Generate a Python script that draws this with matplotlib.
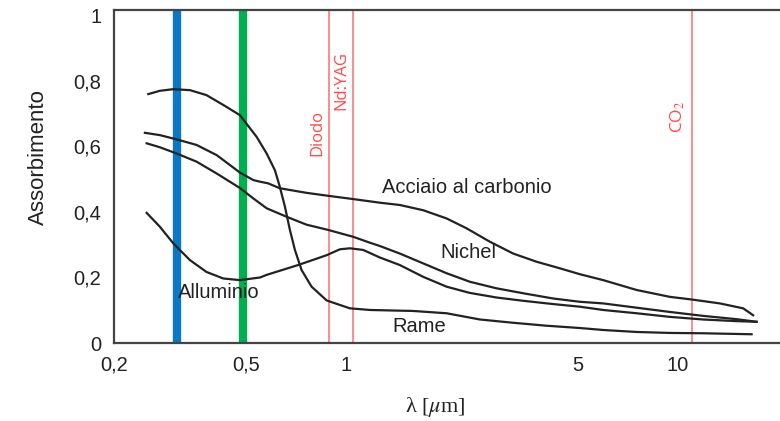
import matplotlib
matplotlib.use("Agg")
import matplotlib.pyplot as plt
from matplotlib.ticker import FixedLocator, FixedFormatter, NullLocator

plt.rcParams['font.family'] = ['Liberation Sans', 'DejaVu Sans']
plt.rcParams['mathtext.fontset'] = 'stix'

# --- dati (lambda in um, assorbimento) ---
rame_x = [0.254, 0.275, 0.302, 0.339, 0.380, 0.427, 0.479, 0.538, 0.577, 0.611,
          0.632, 0.655, 0.678, 0.702, 0.735, 0.788, 0.875, 1.028, 1.181, 1.594,
          2.010, 2.532, 3.190, 4.022, 5.066, 5.956, 7.506, 9.456, 11.91, 16.67]
rame_y = [0.759, 0.769, 0.774, 0.771, 0.756, 0.726, 0.695, 0.629, 0.578, 0.527,
          0.477, 0.416, 0.345, 0.284, 0.223, 0.172, 0.130, 0.106, 0.101, 0.098,
          0.091, 0.072, 0.062, 0.053, 0.046, 0.040, 0.034, 0.031, 0.030, 0.027]

acciaio_x = [0.248, 0.275, 0.309, 0.355, 0.408, 0.447, 0.479, 0.526, 0.551, 0.583,
             0.632, 0.761, 0.884, 1.052, 1.265, 1.453, 1.709, 2.010, 2.308, 2.714,
             3.190, 3.752, 4.410, 5.066, 5.956, 7.506, 9.456, 10.99, 13.38, 15.72,
             16.85]
acciaio_y = [0.641, 0.634, 0.621, 0.604, 0.573, 0.543, 0.520, 0.497, 0.492, 0.487,
             0.472, 0.458, 0.449, 0.439, 0.428, 0.421, 0.405, 0.380, 0.350, 0.309,
             0.273, 0.248, 0.228, 0.210, 0.192, 0.162, 0.141, 0.133, 0.121, 0.106,
             0.085]

nichel_x = [0.251, 0.275, 0.309, 0.355, 0.408, 0.447, 0.479, 0.526, 0.577, 0.663,
            0.761, 0.884, 1.052, 1.181, 1.265, 1.453, 1.709, 2.010, 2.362,
            2.842, 3.418, 4.210, 5.066, 5.956, 7.506, 9.456, 11.91, 15.02, 17.25]
nichel_y = [0.609, 0.597, 0.578, 0.553, 0.517, 0.492, 0.473, 0.441, 0.411, 0.385,
            0.361, 0.345, 0.324, 0.306, 0.296, 0.273, 0.243, 0.213, 0.187,
            0.167, 0.152, 0.136, 0.126, 0.121, 0.108, 0.095, 0.083, 0.073, 0.065]

allum_x = [0.251, 0.275, 0.302, 0.339, 0.380, 0.427, 0.479, 0.551, 0.577, 0.718,
           0.875, 0.959, 1.028, 1.127, 1.265, 1.453, 1.709, 2.010, 2.362, 2.842,
           3.418, 4.210, 5.066, 5.956, 7.506, 9.456, 11.91, 15.02, 17.25]
allum_y = [0.397, 0.355, 0.304, 0.253, 0.217, 0.197, 0.192, 0.200, 0.208, 0.238,
           0.268, 0.286, 0.289, 0.284, 0.261, 0.238, 0.202, 0.172, 0.153, 0.139,
           0.129, 0.119, 0.111, 0.101, 0.091, 0.080, 0.072, 0.067, 0.065]

# lunghezze d'onda delle barre e dei laser
blu = 0.31
verde = 0.49
laser_nomi = ['Diodo', 'Nd:YAG', 'CO$_2$']
laser_x = [0.89, 1.05, 11.0]

xticks = [0.2, 0.5, 1, 5, 10]
xticklabels = ['0,2', '0,5', '1', '5', '10']
yticks = [0, 0.2, 0.4, 0.6, 0.8, 1]
yticklabels = ['0', '0,2', '0,4', '0,6', '0,8', '1']

fig = plt.figure(figsize=(7.8, 4.21), dpi=100)
ax = fig.add_axes([0.146, 0.185, 0.854, 0.791])

ax.set_xscale('log')
ax.set_xlim(0.2, 20.3)
ax.set_ylim(0, 1.015)

# barre colorate
ax.axvline(blu, color='#0a78c4', lw=6, zorder=1)
ax.axvline(verde, color='#00b050', lw=6, zorder=1)

# linee laser
for xl in laser_x:
    ax.axvline(xl, color='#ff8c8c', lw=1.4, zorder=1)
lkw = dict(rotation=90, color='#ff4a4a', family=['Open Sans', 'DejaVu Sans'],
           ha='center', va='center')
ax.text(0.818, 0.64, laser_nomi[0], fontsize=12, **lkw)
ax.text(0.97, 0.80, laser_nomi[1], fontsize=12, **lkw)
ax.text(10.0, 0.69, laser_nomi[2], fontsize=12.5, **lkw)

# curve
kw = dict(color='#222222', lw=1.6, zorder=3, solid_joinstyle='round')
ax.plot(rame_x, rame_y, **kw)
ax.plot(acciaio_x, acciaio_y, **kw)
ax.plot(nichel_x, nichel_y, **kw)
ax.plot(allum_x, allum_y, **kw)

lab = dict(fontsize=14.5, color='#222222', va='center', ha='left', zorder=4)
ax.text(1.28, 0.473, 'Acciaio al carbonio', **lab)
ax.text(1.92, 0.277, 'Nichel', **lab)
ax.text(0.312, 0.155, 'Alluminio', **lab)
ax.text(1.38, 0.052, 'Rame', **lab)

# assi
ax.xaxis.set_major_locator(FixedLocator(xticks))
ax.xaxis.set_major_formatter(FixedFormatter(xticklabels))
ax.xaxis.set_minor_locator(NullLocator())
ax.set_yticks(yticks)
ax.set_yticklabels(yticklabels)
ax.tick_params(length=0, labelsize=14.5, colors='#222222')
ax.tick_params(axis='x', pad=9)
ax.tick_params(axis='y', pad=9)

for s in ['left', 'bottom', 'top']:
    ax.spines[s].set_color('#444444')
    ax.spines[s].set_linewidth(1.6)
ax.spines['right'].set_visible(False)

ax.set_ylabel('Assorbimento', fontsize=16, color='#222222')
ax.yaxis.set_label_coords(-0.098, 0.558)
ax.set_xlabel(r'λ [$\mu$m]', fontsize=16, family=['Liberation Serif', 'DejaVu Serif'],
              color='#222222')
ax.xaxis.set_label_coords(0.482, -0.155)

fig.savefig('out.png', dpi=100)
